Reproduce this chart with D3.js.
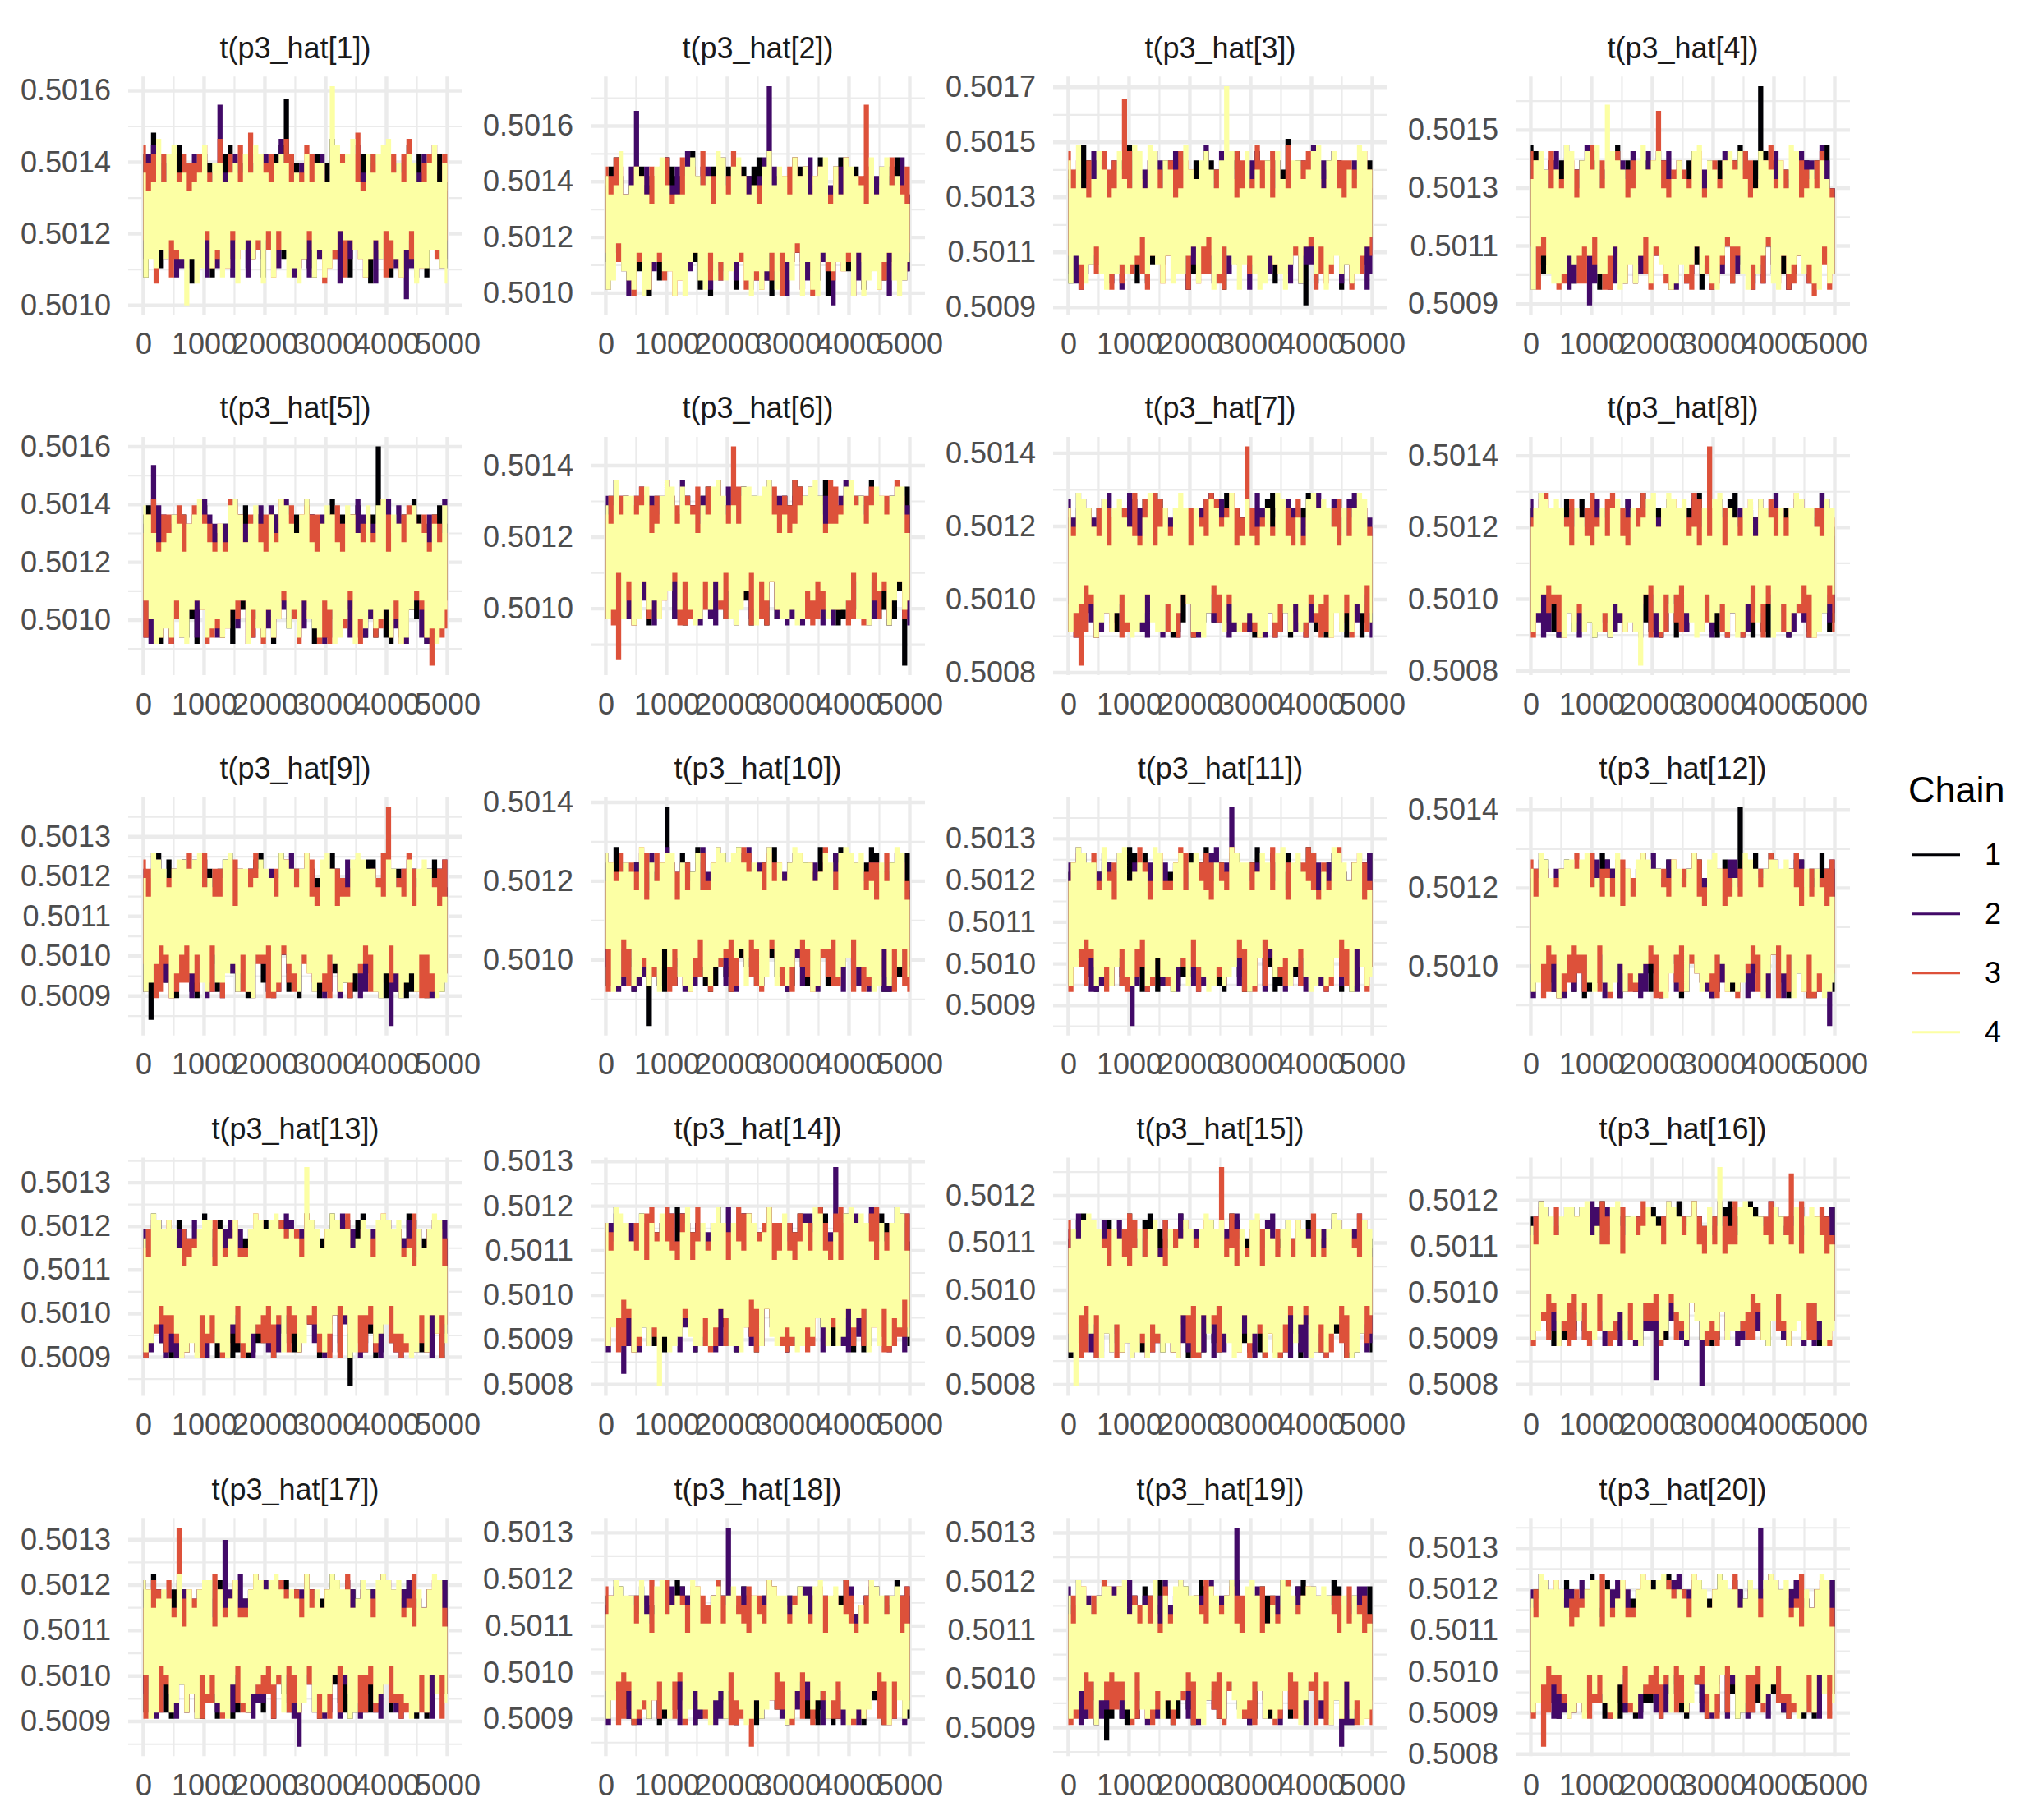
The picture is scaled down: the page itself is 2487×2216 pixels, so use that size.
<!DOCTYPE html>
<html>
<head>
<meta charset="utf-8">
<script src="https://cdn.jsdelivr.net/npm/d3@7"></script>
<style>body{margin:0;background:#fff;}</style>
</head>
<body>
<script>
// ---------------- DATA ----------------
const panelTitles = ["t(p3_hat[1])","t(p3_hat[2])","t(p3_hat[3])","t(p3_hat[4])","t(p3_hat[5])",
  "t(p3_hat[6])","t(p3_hat[7])","t(p3_hat[8])","t(p3_hat[9])","t(p3_hat[10])",
  "t(p3_hat[11])","t(p3_hat[12])","t(p3_hat[13])","t(p3_hat[14])","t(p3_hat[15])",
  "t(p3_hat[16])","t(p3_hat[17])","t(p3_hat[18])","t(p3_hat[19])","t(p3_hat[20])"];
const nIter = 5000;
// smallest / largest draw of each parameter (all chains)
const yMin = [0.5010038,0.5009610,0.5009124,0.5009000,0.5008468,0.5008444,0.5008230,0.5008182,0.5008282,0.5008358,
              0.5008541,0.5008504,0.5008364,0.5007988,0.5007993,0.5007987,0.5008475,0.5008441,0.5008636,0.5008211];
const yMax = [0.5016091,0.5017385,0.5016994,0.5016472,0.5015968,0.5014501,0.5014150,0.5014228,0.5013718,0.5013854,
              0.5013737,0.5014049,0.5013328,0.5012847,0.5012579,0.5012695,0.5013239,0.5013087,0.5013084,0.5013475];
// centre of each trace, in 1/35ths of [yMin, yMax]
const centerLevel = [15,13,14,14,15,18,16,16,16,17,17,16,16,17,16,18,16,15,15,16];
// excursion (in 1/35ths of the range) for each base-36 digit used below
const digitOffset = [0,1,1.5,2,2.5,3,4.5,6,7.5,9,10.5,11.5,12.5,13,14,15,16,17,18,19,20,21,22,23,24,25,26,27,28,29,30,31,32,33,34,35];
const yTicks = [
  [0.5010,0.5012,0.5014,0.5016],[0.5010,0.5012,0.5014,0.5016],[0.5009,0.5011,0.5013,0.5015,0.5017],[0.5009,0.5011,0.5013,0.5015],
  [0.5010,0.5012,0.5014,0.5016],[0.5010,0.5012,0.5014],[0.5008,0.5010,0.5012,0.5014],[0.5008,0.5010,0.5012,0.5014],
  [0.5009,0.5010,0.5011,0.5012,0.5013],[0.5010,0.5012,0.5014],[0.5009,0.5010,0.5011,0.5012,0.5013],[0.5010,0.5012,0.5014],
  [0.5009,0.5010,0.5011,0.5012,0.5013],[0.5008,0.5009,0.5010,0.5011,0.5012,0.5013],[0.5008,0.5009,0.5010,0.5011,0.5012],[0.5008,0.5009,0.5010,0.5011,0.5012],
  [0.5009,0.5010,0.5011,0.5012,0.5013],[0.5009,0.5010,0.5011,0.5012,0.5013],[0.5009,0.5010,0.5011,0.5012,0.5013],[0.5008,0.5009,0.5010,0.5011,0.5012,0.5013]];
const xTicks = [0,1000,2000,3000,4000,5000];
const chainNames = ["1","2","3","4"];
const chainColors = ["#000004","#420A68","#DD513A","#FCFFA4"];
// Trace envelopes: per bin of iterations, alternating upper / lower excursion
// from the centre (base-36 digit, see digitOffset).
const chain1 = [
"9a76c56987 6795a8678b 7685968a57 8696a67587 5978669a86 7696a8i579 8668795a97 6986b76896 7a8657968b 9675869a67 8759a68697 5a86779869",
"8795a68769 7a68967b85 6978a59687 9686b76a58 7b96876896 8a67958697 a6796b8758 6987a69796 7859a68b67 96a7687895 6a87967869 8796a59768",
"8a6978b697 6897a57968 9786b69a76 7a98677896 8697a86b59 9678a69786 7b8696a867 8769a78596 6a9786c876 9a7e869a78 7896a59b67 8a67987695",
"b6a8796896 7a98b67a86 9687a59b69 8796b68a97 6a87969785 a7968b6987 7996a86b78 8a6997857a 96b8678a96 l7a6987969 8b69a78697 7a9685b769",
"96a7869b78 7a86979a68 8b96a78769 6a879b8697 a768969a87 7b9686a978 9687a79b68 6a98b78696 8796a86a97 9ak69a8b67 7a9687b896 8b6997a786",
"8a97b68796 7a89969b87 9687a79a68 6b978a8797 a869b67a89 7998a87b96 8a7b969a87 9687b8a69a 7a9896b869 8b7a97a896 9a86b97a79 7b9a876ia8",
"8a69b78796 7b96a8698a 9687b69a78 a796b8a697 7b9a69879b 8a7968b9a6 96b87a9789 7a9b8696a8 b69a787b96 8a97b69a87 7b8a96a97b 96a87b8969",
"9a87b6978a 7b96a89a68 a8796b8797 8b9a6979a8 7a86b97a96 9b7a869b87 8a96a7b968 7a9b8796a8 b8796a9b87 8a7b969a68 9b87a6978a 7a96b89a79",
"8a7f96b879 a79b86a89a 7b96a8978a 96a7b89a68 8b97a6b97a 7a89b69a87 9b86a7978b 8a96b89a79 7b9a8696a8 a8796b879a 9a7b8a9687 8b96a79a78",
"9a86b79a78 7b96a89h87 8a9bi69a78 a79687b96a 7b8a96a97b 96b7a8978a 8a96a7b969 7b9a86a89a 9687b69a78 a8b7969a87 7a96b8a97b 8b9a7969a8",
"8a97b6a979 9b87a69a68 7a96b8a97b a8796b9a87 8b9a7969a8 7a96b8978a 9b86a7a96b 8a97b69a78 7b9a86a969 9687b8a97a 8a96a79b86 7b9a8696a8",
"9a87b6a97a 7b96a89a86 8b9a7969b8 a7968b9a87 7a96b89a78 9b87a6978b 8a96b7a969 7b9a86a89a 9aj69687b8 8a97b69a78 7b96a8a97b 9a86b7969a",
"8a96b7a97a 9b87a69a78 7a96b8978b a8796b9a87 8b9a7969a8 7b96a8a97a 9a86b7978b 8a97b69a86 9g96a8b978 7b9a86a969 9687b8a97a 8a96a79b87",
"9a87b69a78 7b96a8978a 8a9b7969b8 a7968b9a87 7a96b89a86 9b87a6a97b 8a96b7978a 7b9a86a969 9687b8a97a 8a96a79b87 7b9a8696a8 9a86b7a97a",
"8b97a6b897 9a7b86a978 7a96b9878a a8b7969a87 8a97b69b86 7b9a86a97a 9687b8a979 8a978a9b87 7a8b96a968 9b87a6979a 8a96b8a87b 7b9a96878a",
"9a86b7a97b 7b8a96a986 a98798a7b6 8b96a89a97 7a9b8697a8 9b7a96a8b7 8a96b79a87 7b8a96a9b8 a89769b8a6 9a7b86a79a 8b96a7a987 7a9b8696a8",
"9a86b7978a 8b96a79a68 7a9b86a97b a8796b9a87 8a97b69a78 7b96a8a969 9a87b6978b 8a96b7a97a 7b9a86a89a 9687b69a86 8a96a79b78 7b9a8696a8",
"9a87b6a97a 7b96a89a86 8b9a7969b8 a7968b9a87 7a96b89a78 9b87a6978b 8a96b7a969 7b9a86a89a 9a8b69687b 8a97b69a78 7b96a8a97b 9a86b7969a",
"9a86b79a78 7b96ae9a87 8a9b769a78 a79687b96a 7b8a96a97b 96b7a8978a 8a96a7b969 7b9a86a89a 9687b69a78 a8b7969a87 7a96b8a97b 8b9a7969a8",
"8a97b6a979 9b87a69a68 7a96b8a97b a8796b9a87 8b9a7969a8 7a96b8978a 9b86a7a96b 8a97b69a78 7b9a86a969 9687b8a97a 8a96a79b86 7b9a8696a8"];
const chain2 = [
"7896a76598 867a596987 96587a6879 h6785a9667 6a97866895 8769b6759a 79866a9768 9567886b96 6896a57a86 7b68968759 867e695a78 9687a76958",
"7a8697586b 96i7759a68 8697a67896 69b8768597 9a6879a687 7996858a69 86a9m69775 6b87968a59 a76997867d 8695a78b69 7a68968795 9b7687a968",
"796a8b6978 a696875a97 6b8769a786 8796a59687 97a8696b78 6886b97a69 a769869785 7b96a86879 8697695a86 6a9878b796 9786a69a58 7a96887b69",
"7b96a58798 a7689b6a86 97be7a6987 6b8a979786 a86979a687 8796a86b97 7a69968785 9b8769a697 6987a78b69 8a9679a687 7b8697a69a 9687b79669",
"8a7bh6a897 6b979a7886 9a86b7968a 7987a6b996 8b6a98a769 a79687b896 6a89b7968a 9b7a869786 7a96b89a68 8697a7b969 a86b97968a 7b9a8679b6",
"9a78b6979a 7b96a8879b 8a97b69a78 b6988a7b96 9a7b9687a8 8b96a79a87 7a98b68a96 9b7a978b69 a8968b9a7b 8796b8a979 9a8b7a9687 8b97a69a8b",
"a78b96a879 8b6a97b968 7a96b8a79a 9b87a69b87 8a7b96978a 7b96a8b969 a98b7a9687 8a96b79b78 7b9a86a89a 9a8b7968b7 8796a79a86 a7b968978b",
"a8796b8a97 7b9a86979b 8a96b7a869 9b8a7968a7 7a9b86a98b 8b96a7978a 9a87b69a86 7b96a89b78 8a9b7a9686 a79687b89a 7b8a96a97b 9a86b7a968",
"9a86b7a979 7b8a96a89b a9879b7a86 8b96a89a97 7a9b86978a 9b7a96a8b7 8a96b79a78 7b8a969b87 a8976b9a86 9a7b867g8a 8b96a79a87 7a9b8696a8",
"a8796b8a97 8b9a7968a7 7a96b89a86 9b8a7a96b8 8a97b69a78 7b96a8b969 9a87b6978a 8b96a79a68 7a9b869687 a96b87a89a 8a7b96978b 9b86a7a969",
"9a86b7a97b 7b8a969a86 a9877h9a68 8b96a79a97 7a9b86978a 9b7a96a8b7 8a96i79a78 7b8a969b87 a8976b9a86 9a7b86a79a 8b96a79a87 7a9b8696a8",
"8b96a7978a 9a7b869a86 7a96b8a97b a8976b9a87 8a9b7a96b8 9b86a79a78 7a96b8978a 8b9a7969a8 a7968b9a86 9a7b86a97b 8a96b7a968 7b9a869ga8",
"9b7a86a97b 7a8b969a87 a89a7b9686 8b96a89797 7a9b86a78a 9b7a96b8a7 8a96b7a978 7b8a96a9b7 a8976b9a87 9a7b96a79a 8b86a79a97 7a9b86a6a8",
"8b96a79f7a 9a7b869a86 7a96b8a97b a8976b9a87 8a9b7a96b8 9b86a79a78 7a96b8978a 8b9a7969a8 a7968b9a86 i79a7b86a9 8a96b7a968 7b9a869ba8",
"9a87b6978a 7b96a89a68 a8796b8797 8b9a6979a8 7a86b97a96 9b7a869b87 8a96a7b968 7a9b8796a8 b8796a9b87 8a7b969a68 9b87a6978a 7a96b89a79",
"8a97b6a979 9b87a69a68 7a96b8a97b a8796b9a87 8b9a79697h 7a96b8978a 9b86a79i6b 8a97b69a78 7b9a86a969 9687b8a97a 8a96a79b86 7b9a8696a8",
"a8976b9a86 9a7b869a87 8b96a7978a 7ah69a86b8 8a9b7969a8 9b86a79a7b 8g96b79a78 7b8a969b87 a8976b9a86 9a7b86a79a 8b96a79a87 7a9b8696a8",
"8b96a7978a 9a7b869a86 7a96b8a97b a8976b9a87 8a9b7a96k8 9b86a79a78 7a96b8978a 8b9a7969a8 a7968b9a86 9a7b86a97b 8a96b7a968 7b9a869ba8",
"a8796b8a97 8b9a7968a7 7a96b89a86 9b8a7a96b8 8a97b69a78 7b96a8b969 9a87b6k78a 8b96a79a68 7a9b869687 a96b87a89a 8a7b969f8b 9b86a7a969",
"9a86b7a97b 7b8a969a86 a98779a968 8b96a79a97 7a9b86978a 9b7a96a8b7 8a96a79a78 7b8a969b87 a8976b9a86 j67b86a79a 8b96a79a87 7a9b8696a8"];
const chain3 = [
"a6879b6597 6a98759687 8697a67958 b7699678a6 76c8679687 9a6787b596 6978a69786 8b6968759a 7697c86a68 96877a6998 7a96b86769 8795a86796",
"9685a79768 6b97856a97 8769a86b69 a5879676b8 6987a97586 b6978a6969 7a8659687b 8697a68a96 6b87957869 9768a76b85 87j6966a79 76a8697896",
"a7869b6897 7968a78b96 8aj7a96879 6b97858a67 9687a69b86 7a6989678a 8b9676a897 6978b69687 a86979b687 8796a68b79 6a79869795 9b8679a687",
"a69b8768a9 8b7a96978a 6a97b8689b 7b96a97a86 9a87698b97 h69a7b8696 8a7b96a869 6b9a78969a 9787a69b68 7a96b87a97 8b6a97968a 7c96a87b69",
"7a96b86a97 9b78a69687 a6979b8a69 8a69b7a896 6b9a878b97 9a78b696a8 7b96a8969b 8a7b96a789 969a7b8796 7a89b69a78 8b97a69687 9a6f968a79",
"7a9b8h9a98 8b97a69a87 9a78b6968b 7b9a87a969 a896b97a87 h7a8979b69 7a8b96a987 9687b8a97a 8b9a7969b8 a9879b7a96 7b96a88a97 9a87b69a78",
"9a7b8g8a97 7b96a89a87 8b9a76b968 a697b8a79a 7a8b96979b 9687a6b8a9 8a97b7968a j69a7b8796 7b8a969a87 a96b87a97b 8a7b96a968 9b87a69a78",
"8b97a6b897 9a7b86a978 7a96b9878a a8b7969a87 8a97b69b86 7b9a86a97a 9687b8a979 j6978a9b87 7a8b96a968 9b87a6979a 8a96b8a87b 7b9a96878a",
"a7968b9a87 8b9a7969b8 7a86b97a96 9b87a6a89a 8a96b7978b 7b9a86a96a 9687b8a979 8a7b969a86 7b96a8978a 9a87b6j968 8a96b79a7b 9b7a8696a8",
"7b9a86a97a 9687b8a969 a8967b9a87 8a9b7969a8 7b96a8978b 9a86b7a96a 8b97a6979a 7a8b96a869 9b7a87b96a 8a96a79b78 7b8a969a86 a97b869a7b",
"7b96a89a87 a8796b8a97 8a9b7969b8 9b7a86a97a 7a96b8a868 8b97a69a79 9a86b7978b 7a9b869a86 b8796a9a87 8a97b6a969 9b7a86b97a 7a96a89b78",
"a7968b9a87 8b9a7969b8 7a86b97a96 9b87a6a89a 8a96b7978b 7b9a86a96a 9687b8a979 8a7b969a86 7b96a8978a 9a87b69b68 8a96b79a7b 9b7a8696a8",
"7b96a8978a a8796b9a87 8a9b7969a8 9b7a86a97b 7a96b8a969 8b97a69a78 9a86b7978a 7a9b869b86 b8796a9a87 8a97b6a97a 9b7a86b969 7a96a89b87",
"9a867b8a97 7b9a96a8b9 8a96b7a978 a79687b96a 7b8a969a87 96b7a8a97b 8a96b7969a 7b9a86a89b 9a87b69a78 a8b7969a87 7a96a8b97b 8b9a7969a8",
"a8796b8a97 7b9a86979b 8a96b7a869 9b8a7968a7 7a9b86a98b 8b96a7978a j787b69a86 7b96a89b78 8a9b7a9686 a79687b89a 7b8a96a97b 9a86b7a968",
"7b96a89a87 a8796b8a97 8a9b7969b8 9b7a86a97a 7a96b8a868 8b97a69a79 9a86b7978b 7a9b869a86 b8796a9a87 8a97b6a969 9bg786b97a 7a96a89b78",
"7b96a89a87 a879j68a97 8a9b7969b8 9b7a86a97a 7a96b8a868 8b97a69a79 9a86b7978b 7a9b869a86 b8796a9a87 8a97b6a969 9b7a86b97a 7a96a89b78",
"a7968b9a87 8b9a7969b8 7a86b97a96 9b87a6a89a 8a96b7978b 7b9a86af96 9687b8a979 8a7b969a86 7b96a8978a 9a87b69b68 8a96b79a7b 9b7a8696a8",
"7b9a86a97a 9687b8a969 a8967b9a87 8a9b7969a8 7b96a8978b 9a86b7a96a 8b97a6979a 7a8b96a869 9b7a87b96a 8a96a79b78 7b8a969a86 a97b869a7b",
"7b968g9a87 a8796b8a97 8a9b7969b8 9b7a86a97a 7a96b8a868 8b97a69a79 9a86b7978b 7a9b869a86 b8796a9a87 8a97b6a969 9b7a86b97a 7a96a89b78"];
const chain4 = [
"7a5869b768 96a7687f58 6b79a56987 8a69758b67 9678a69b75 6a85978a69 7b68956a87 8a69k7a586 96b7685a98 7698a5b678 8a67958b69 6987a7698b",
"8a6975b869 7a968b6a57 96a8785b69 6b97a6897a 8659b7a968 97a6896b78 5a98b67a96 8769a58b97 6a8b96a758 9768a69b86 7b59a86a97 a6798b6957",
"9a67b86a58 76a98b5969 a87968b7a5 69b7a86a97 8a5969b786 7a96a58b69 96l7a85b68 a7698b6a97 58a97b6896 9a7685a9b6 6b98a76958 8a69b7a685",
"7b96a5896a 8a69b7a857 96a785b969 i7a69b8a58 6a97b58a96 a8695b7a98 7968a6b957 9a8b6795a6 86a97b5869 a7958a6b97 69b8a75968 8a6b967a59",
"a6987b5a69 7a968a5b87 96b78a6958 8a59a7b696 6b87a96a57 9a68b5a987 7a96b8695a 86a79b6a58 a59b7869a7 69a8b75a96 8b6a97a586 7a598b69a7",
"8a69b57a96 9b7a86a958 6a98b7a569 a6897b5a86 79a6b8956a 8b69a7a59b 96a8b6795a 7a596b8a97 a8b6975a69 6979a8b58a 9a6b85a796 7b98a6a958",
"9a68b7a596 7b69a85a98 a6897b6a59 86b95a7a97 6a98b6975a 9a7b68a596 7a86b95a69 a8695b7a98 69b7a86a57 8a59a6b897 a69b785a96 6a97b8a569",
"7a98b6a596 a69b785a97 8a695b7a98 6b97a86a59 9a7g86a5b8 7a96b8a695 a8697b5a96 69a8b75a98 8b6a97a569 a7958b6a97 6a98b7a596 9b7a68a596",
"8a69b7a596 7b98a6a598 a6b97a8569 69a8b75a96 9a7b86a695 8a69b5a798 7a96b86a59 a8b6975a69 69a8b7a596 9a7b68a598 7b69a85a96 a6987b5a69",
"a69b7a8596 8a69b75a98 7b96a8a659 9a6b87a569 6a98b7a695 a7b69a8596 8a69b57a98 7a98b6a596 9b7a86a695 69a8b7a598 a8697b5a96 7a96b8a659",
"7a98b6a596 9a69b87a58 a6b97a8695 8a59b7a969 6b98a76a95 a8796b5a98 7a69b8a596 9b6a87a596 69a8b75a98 a6897b6a59 8a69b7a596 7b96a85a69",
"9a69b7a586 7b98a6a596 a6b97a8569 8a69b75a98 69a8b7a596 9a7b68a695 7a96b86a59 a8b6975a69 8a69b7a596 7b98a6a598 a69b785a96 6a987b5a69",
"8a69b7a596 a6987b5a69 7b96a8a659 9a6b87a569 6a98b7a695 a7b69a8596 8a69j6a598 7a98b6a596 9b7a86a695 69a8b7a598 a8697b5a96 7a96b8a659",
"9a68b7a596 7b69a85a98 7ha97b6a59 86b95a7a97 6a98b6975a 9a7b68a596 7a86b95a69 a8695b7a98 69b7a86a57 8a59a6b897 a69b785a96 6a97b8a569",
"7a9g86a5b8 a69b785a97 8a695b7a98 6b97a86a59 9a7b86a695 7a96b8a695 a8697b5a96 69a8b75a98 8b6a97a569 a7958b6a97 6a98b7a596 9b7a68a596",
"8a69b7a596 7b98a6a598 a6b97a8569 69a8b75a96 9a7b86a695 8a69b5a798 7a96b86a59 a869h75a69 69a8b7a596 9a7b68a598 7b69a85a96 a6987b5a69",
"a69b7a8596 8a69b75a98 7b96a8a659 9a6b87a569 6a98b7a695 a7b69a8596 8a69b57a98 7a98b6a596 9b7a86a695 69a8b7a598 a8697b5a96 7a96b8a659",
"7a98b6a596 9a69b87a58 a6b97a8695 8a59b7a969 6b98a76a95 a8796b5a98 7a69b8a596 9b6a87a596 69a8b75a98 a6897b6a59 8a69b7a596 7b96a85a69",
"9a69b7a586 7b98a6a596 a6b97a8569 8a69b75a98 69a8b7a596 9a7b68a695 7a96b86a59 a8b6975a69 8a69b7a596 7b98a6a598 a69b785a96 6a987b5a69",
"8a69b7a596 a6987b5a69 7b96a8a659 9a6b87a569 6a98b7a695 a7b69a8596 8a69b6a598 7a98b6a596 9b7a86a695 69a8b7a598 a8697b5a96 7a96b8a659"];

// ---------------- LAYOUT ----------------
const W = 2487, H = 2216;
const colLeft = [156, 719, 1282, 1845];
const rowTop = [93.3, 532, 970.8, 1409.5, 1848.3];
const pw = 407, ph = 290;
const FONT = "'Liberation Sans', Arial, Helvetica, sans-serif";
const LEVELS = 35;

function decode(str, p) {
  const s = str.replace(/\s+/g, "");
  const n = s.length;
  const unit = (yMax[p] - yMin[p]) / LEVELS;
  return Array.from(s, (ch, i) => ({
    iter: 1 + i * (nIter - 1) / (n - 1),
    value: yMin[p] + (centerLevel[p] + (i % 2 === 0 ? 1 : -1) * digitOffset[parseInt(ch, 36)]) * unit
  }));
}

const svg = d3.select("body").append("svg")
  .attr("width", W).attr("height", H)
  .attr("font-family", FONT);
svg.append("rect").attr("width", W).attr("height", H).attr("fill", "#ffffff");

const chains = [chain1, chain2, chain3, chain4];

panelTitles.forEach((title, p) => {
  const col = p % 4, row = Math.floor(p / 4);
  const g = svg.append("g").attr("transform", `translate(${colLeft[col]},${rowTop[row]})`);
  const series = chains.map(ch => decode(ch[p], p));
  const [lo, hi] = d3.extent(series.flat(), d => d.value);
  const padY = 0.05 * (hi - lo);
  const y = d3.scaleLinear().domain([lo - padY, hi + padY]).range([ph, 0]);
  const x = d3.scaleLinear().domain([1 - 0.05 * (nIter - 1), nIter + 0.05 * (nIter - 1)]).range([0, pw]);

  // grid
  const yt = yTicks[p];
  const step = yt[1] - yt[0];
  const ext = [yt[0] - step, ...yt, yt[yt.length - 1] + step];
  const [d0, d1] = y.domain();
  const yMinor = d3.pairs(ext).map(([a, b]) => (a + b) / 2).filter(v => v >= d0 && v <= d1);
  const xMinor = d3.pairs(xTicks).map(([a, b]) => (a + b) / 2);
  const grid = g.append("g");
  grid.selectAll(".ymn").data(yMinor).join("line")
    .attr("x1", 0).attr("x2", pw).attr("y1", d => y(d)).attr("y2", d => y(d))
    .attr("stroke", "#EBEBEB").attr("stroke-width", 2.2);
  grid.selectAll(".xmn").data(xMinor).join("line")
    .attr("y1", 0).attr("y2", ph).attr("x1", d => x(d)).attr("x2", d => x(d))
    .attr("stroke", "#EBEBEB").attr("stroke-width", 2.2);
  grid.selectAll(".ymj").data(yt.filter(v => v >= d0 && v <= d1)).join("line")
    .attr("x1", 0).attr("x2", pw).attr("y1", d => y(d)).attr("y2", d => y(d))
    .attr("stroke", "#EBEBEB").attr("stroke-width", 4.4);
  grid.selectAll(".xmj").data(xTicks).join("line")
    .attr("y1", 0).attr("y2", ph).attr("x1", d => x(d)).attr("x2", d => x(d))
    .attr("stroke", "#EBEBEB").attr("stroke-width", 4.4);

  // traces
  const clipId = "clip" + p;
  g.append("clipPath").attr("id", clipId).append("rect").attr("width", pw).attr("height", ph);
  const line = d3.line().curve(d3.curveStep).x(d => x(d.iter)).y(d => y(d.value));
  const traces = g.append("g").attr("clip-path", `url(#${clipId})`);
  series.forEach((s, k) => {
    traces.append("path").datum(s)
      .attr("d", line)
      .attr("fill", "none")
      .attr("stroke", chainColors[k])
      .attr("stroke-width", 3.15)
      .attr("stroke-linejoin", "miter");
  });

  // axes
  const ya = g.append("g").call(d3.axisLeft(y).tickValues(yt).tickSize(0).tickPadding(21).tickFormat(d3.format(".4f")));
  ya.select(".domain").remove();
  ya.attr("font-size", 36).attr("font-family", FONT);
  ya.selectAll("text").attr("fill", "#4D4D4D");

  const xa = g.append("g").attr("transform", `translate(0,${ph})`)
    .call(d3.axisBottom(x).tickValues(xTicks).tickSize(0).tickPadding(22).tickFormat(d3.format("d")));
  xa.select(".domain").remove();
  xa.attr("font-size", 36).attr("font-family", FONT);
  xa.selectAll("text").attr("fill", "#4D4D4D");

  // strip title
  g.append("text").attr("x", pw / 2).attr("y", -22.6)
    .attr("text-anchor", "middle").attr("font-size", 36).attr("fill", "#1A1A1A")
    .text(title);
});

// legend
const lg = svg.append("g");
lg.append("text").attr("x", 2323).attr("y", 977).attr("font-size", 45).attr("fill", "#000000").text("Chain");
chainNames.forEach((nm, k) => {
  const yy = 1040.7 + k * 72;
  lg.append("line").attr("x1", 2328).attr("x2", 2386).attr("y1", yy).attr("y2", yy)
    .attr("stroke", chainColors[k]).attr("stroke-width", 2.9);
  lg.append("text").attr("x", 2416).attr("y", yy).attr("dy", "0.35em")
    .attr("font-size", 36).attr("fill", "#000000").text(nm);
});
</script>
</body>
</html>
